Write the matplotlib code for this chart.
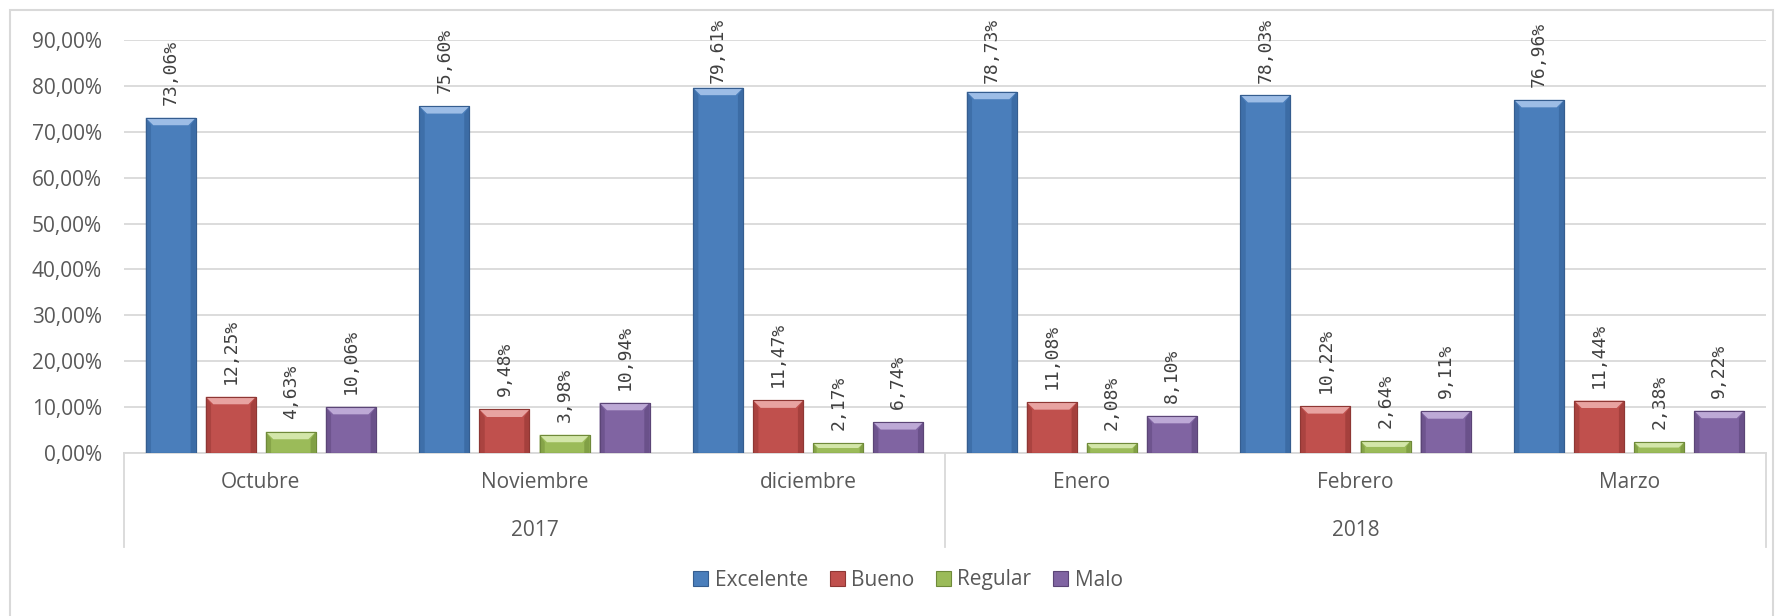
import matplotlib
matplotlib.use("Agg")
import matplotlib.pyplot as plt
from matplotlib.patches import Rectangle, Polygon
from matplotlib.lines import Line2D
from matplotlib.transforms import blended_transform_factory, IdentityTransform
from matplotlib.ticker import FuncFormatter, MultipleLocator
import numpy as np

# ---- data -------------------------------------------------------------
months = ["Octubre", "Noviembre", "diciembre", "Enero", "Febrero", "Marzo"]
years = ["2017", "2018"]
months_per_year = [3, 3]
series = ["Excelente", "Bueno", "Regular", "Malo"]
excelente = [73.06, 75.60, 79.61, 78.73, 78.03, 76.96]
bueno = [12.25, 9.48, 11.47, 11.08, 10.22, 11.44]
regular = [4.63, 3.98, 2.17, 2.08, 2.64, 2.38]
malo = [10.06, 10.94, 6.74, 8.10, 9.11, 9.22]
values = [excelente, bueno, regular, malo]

# base, bevel highlight, side shade, outline
palette = [
    ("#4a7ebb", "#9dbde6", "#3b6aa3", "#355d8f"),
    ("#c0504d", "#e8a3a1", "#a33f3c", "#8e3734"),
    ("#9bbb59", "#d3e6a9", "#7f9d43", "#6f8a3a"),
    ("#8064a2", "#bda9d6", "#684f88", "#5b4576"),
]

W, H, DPI = 1787, 616, 100
fig = plt.figure(figsize=(W / DPI, H / DPI), dpi=DPI)
fig.patch.set_facecolor("white")

# axes placement in pixels
ax_left, ax_right, ax_top, ax_bottom = 124, 1766, 40, 453
ax = fig.add_axes([ax_left / W, 1 - ax_bottom / H,
                   (ax_right - ax_left) / W, (ax_bottom - ax_top) / H])

TEXT = "#595959"
GRID = "#d9d9d9"
UI_FONT = ["Open Sans", "DejaVu Sans"]
LABEL_FONT = ["DejaVu Sans Mono", "DejaVu Sans"]

n = len(months)
x = np.arange(n)
bar_w = 50 / 273.6
step = 60 / 273.6
offsets = (np.arange(len(series)) - (len(series) - 1) / 2) * step

ax.set_xlim(-0.5, n - 0.5)
ax.set_ylim(0, 90)
ax.yaxis.set_major_locator(MultipleLocator(10))
ax.yaxis.set_major_formatter(FuncFormatter(lambda v, _: f"{v:.2f}%".replace(".", ",")))
ax.set_xticks([])
ax.grid(axis="y", color=GRID, lw=1.3)
ax.set_axisbelow(True)
for s in ("top", "right", "left"):
    ax.spines[s].set_visible(False)
ax.spines["bottom"].set_color(GRID)
ax.spines["bottom"].set_linewidth(1.3)
ax.tick_params(axis="y", length=0, pad=16, labelsize=15, labelcolor=TEXT)
for t in ax.get_yticklabels():
    t.set_fontfamily(UI_FONT)

# ---- bars with a bevelled look -----------------------------------------
bars_by_series = []
for i, (name, vals) in enumerate(zip(series, values)):
    base, light, dark, edge = palette[i]
    bc = ax.bar(x + offsets[i], vals, width=bar_w, color=base,
                edgecolor=edge, linewidth=0.8, label=name, zorder=3)
    bars_by_series.append(bc)

fig.canvas.draw()
inv = ax.transData.inverted()
for i, bc in enumerate(bars_by_series):
    base, light, dark, edge = palette[i]
    for rect in bc:
        x0d, y0d = rect.get_x(), rect.get_y()
        x1d, y1d = x0d + rect.get_width(), y0d + rect.get_height()
        (px0, py0), (px1, py1) = ax.transData.transform([(x0d, y0d), (x1d, y1d)])
        b = min(7.5, (py1 - py0) * 0.5)
        top = [(px0, py1), (px1, py1), (px1 - b, py1 - b), (px0 + b, py1 - b)]
        left = [(px0, py1), (px0 + b * 0.7, py1 - b), (px0 + b * 0.7, py0), (px0, py0)]
        right = [(px1, py1), (px1 - b * 0.7, py1 - b), (px1 - b * 0.7, py0), (px1, py0)]
        for pts, col, a in ((left, dark, 0.75), (right, dark, 0.9), (top, light, 1.0)):
            ax.add_patch(Polygon(inv.transform(pts), closed=True, facecolor=col,
                                 edgecolor="none", alpha=a, zorder=4))
        ax.add_patch(Rectangle((x0d, y0d), rect.get_width(), rect.get_height(),
                               facecolor="none", edgecolor=edge, lw=0.8, zorder=5))

# ---- value labels -------------------------------------------------------
pix_y = blended_transform_factory(ax.transData, IdentityTransform())
gap_px = 13
top_limit = H - 18
labels = []
for i, (bc, vals) in enumerate(zip(bars_by_series, values)):
    for rect, v in zip(bc, vals):
        cx = rect.get_x() + rect.get_width() / 2
        ytop = ax.transData.transform((cx, v))[1]
        t = ax.text(cx, ytop + gap_px, f"{v:.2f}%".replace(".", ","),
                    transform=pix_y, rotation=90, ha="center", va="bottom",
                    fontsize=13, color="#404040", family=LABEL_FONT,
                    clip_on=False, zorder=6)
        labels.append(t)

fig.canvas.draw()
renderer = fig.canvas.get_renderer()
for t in labels:
    bb = t.get_window_extent(renderer)
    if bb.y1 > top_limit:
        t.set_va("top")
        t.set_y(top_limit)

# ---- two-level category axis -------------------------------------------
month_y = H - 483
year_y = H - 531
box_bottom = H - 547
for xi, m in zip(x, months):
    ax.text(xi, month_y, m, transform=pix_y, ha="center", va="center",
            fontsize=15, color=TEXT, family=UI_FONT, clip_on=False)

start = 0
bounds = [-0.5]
for yr, cnt in zip(years, months_per_year):
    center = start + (cnt - 1) / 2
    ax.text(center, year_y, yr, transform=pix_y, ha="center", va="center",
            fontsize=15, color=TEXT, family=UI_FONT, clip_on=False)
    start += cnt
    bounds.append(start - 0.5)

axis_y = H - ax_bottom
for bx in bounds:
    ax.add_line(Line2D([bx, bx], [axis_y, box_bottom], transform=pix_y,
                       color=GRID, lw=1.3, clip_on=False))

# ---- legend -------------------------------------------------------------
handles = [Rectangle((0, 0), 1, 1, facecolor=p[0], edgecolor=p[3], lw=0.8)
           for p in palette]
leg = fig.legend(handles, series, loc="center", ncol=4,
                 bbox_to_anchor=(908 / W, 1 - 580 / H), frameon=False,
                 handlelength=0.72, handleheight=0.72, handletextpad=0.3,
                 columnspacing=1.05,
                 prop={"family": UI_FONT, "size": 15})
for t in leg.get_texts():
    t.set_color(TEXT)

# ---- chart border -------------------------------------------------------
fig.add_artist(Rectangle((10 / W, -0.05), (1773 - 10) / W, 1.05 - 10 / H,
                         transform=fig.transFigure, facecolor="none",
                         edgecolor=GRID, lw=1.5))

fig.savefig("out.png", dpi=DPI, facecolor="white")
